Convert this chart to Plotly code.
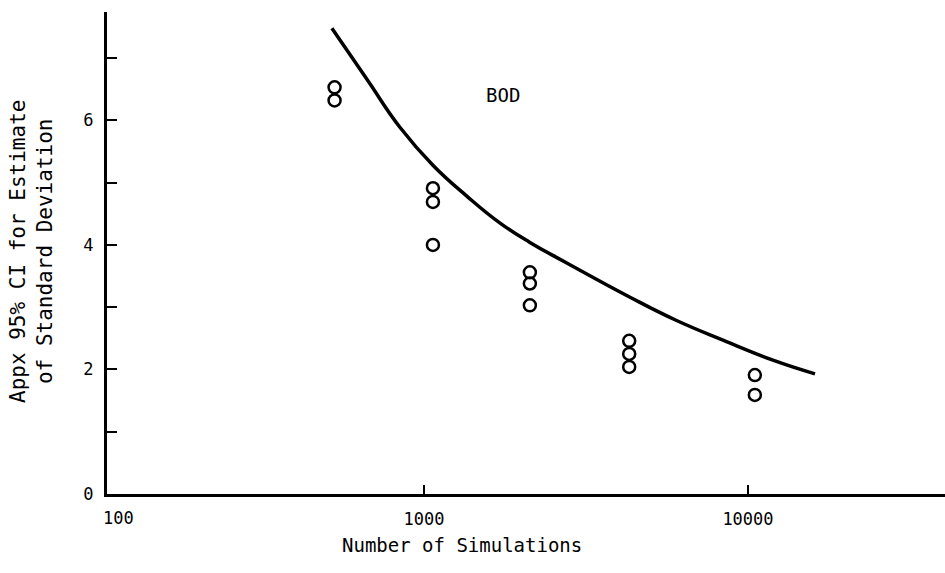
import plotly.graph_objects as go
import math

# --- data ---
curve_n = [520, 667, 843, 1066, 1359, 1718, 2123, 2760, 4325, 5998, 8375, 11940, 16100]
curve_ci = [7.48, 6.66, 5.89, 5.28, 4.78, 4.35, 4.04, 3.71, 3.16, 2.79, 2.47, 2.15, 1.93]

pts_n = [530, 530, 1066, 1066, 1066, 2123, 2123, 2123, 4300, 4300, 4300, 10500, 10500]
pts_ci = [6.53, 6.32, 4.91, 4.69, 4.00, 3.56, 3.38, 3.03, 2.46, 2.25, 2.04, 1.91, 1.59]

y_tickvals = [0, 1, 2, 3, 4, 5, 6, 7]
y_ticktext = ["0", "", "2", "", "4", "", "6", ""]
x_tickvals = [1000, 10000]
x_ticktext = ["1000", "10000"]

FONT = "DejaVu Sans Mono"
W, H = 945, 573
ML, MR, MT, MB = 107, 0, 12, 79
plot_w = W - ML - MR
plot_h = H - MT - MB


def px(xpix):
    return (xpix - ML) / plot_w


def py(ypix):
    return (H - MB - ypix) / plot_h


fig = go.Figure()
fig.add_trace(go.Scatter(
    x=curve_n, y=curve_ci, mode="lines",
    line=dict(color="black", width=3.5, shape="spline", smoothing=1.3),
    showlegend=False, hoverinfo="skip"))
fig.add_trace(go.Scatter(
    x=pts_n, y=pts_ci, mode="markers",
    marker=dict(symbol="circle-open", size=12, color="black",
                line=dict(color="black", width=2.5)),
    showlegend=False))

fig.update_layout(
    width=W, height=H,
    margin=dict(l=ML, r=MR, t=MT, b=MB),
    paper_bgcolor="white", plot_bgcolor="white",
    font=dict(family=FONT, size=16, color="black"),
    xaxis=dict(
        type="log", range=[2.022, 4.608],
        showline=True, linecolor="black", linewidth=3,
        showgrid=False, zeroline=False,
        tickvals=x_tickvals, ticktext=x_ticktext,
        ticks="inside", ticklen=9, tickwidth=2, tickcolor="black",
        tickfont=dict(family=FONT, size=17, color="black"),
        ticklabelstandoff=8,
    ),
    yaxis=dict(
        range=[0, 7.74],
        showline=True, linecolor="black", linewidth=3,
        showgrid=False, zeroline=False,
        tickvals=y_tickvals, ticktext=y_ticktext,
        ticks="inside", ticklen=10, tickwidth=2, tickcolor="black",
        tickfont=dict(family=FONT, size=17, color="black"),
        ticklabelstandoff=7,
    ),
    annotations=[
        dict(text="BOD", x=math.log10(1755), y=6.40, xref="x", yref="y",
             xanchor="center", yanchor="middle",
             showarrow=False, font=dict(family=FONT, size=19, color="black")),
        dict(text="100", x=px(118), y=py(518), xref="paper", yref="paper",
             xanchor="center", yanchor="middle",
             showarrow=False, font=dict(family=FONT, size=17, color="black")),
        dict(text="Number of Simulations", x=px(462), y=py(545),
             xref="paper", yref="paper", xanchor="center", yanchor="middle",
             showarrow=False, font=dict(family=FONT, size=19, color="black")),
        dict(text="Appx 95% CI for Estimate<br>of Standard Deviation",
             x=px(31), y=py(252), xref="paper", yref="paper", textangle=-90,
             xanchor="center", yanchor="middle",
             showarrow=False, font=dict(family=FONT, size=21, color="black")),
    ],
)

fig.write_html(
    "out.html",
    config={"displayModeBar": False},
    post_script="document.body.style.margin='0';document.body.style.overflow='hidden';",
)
